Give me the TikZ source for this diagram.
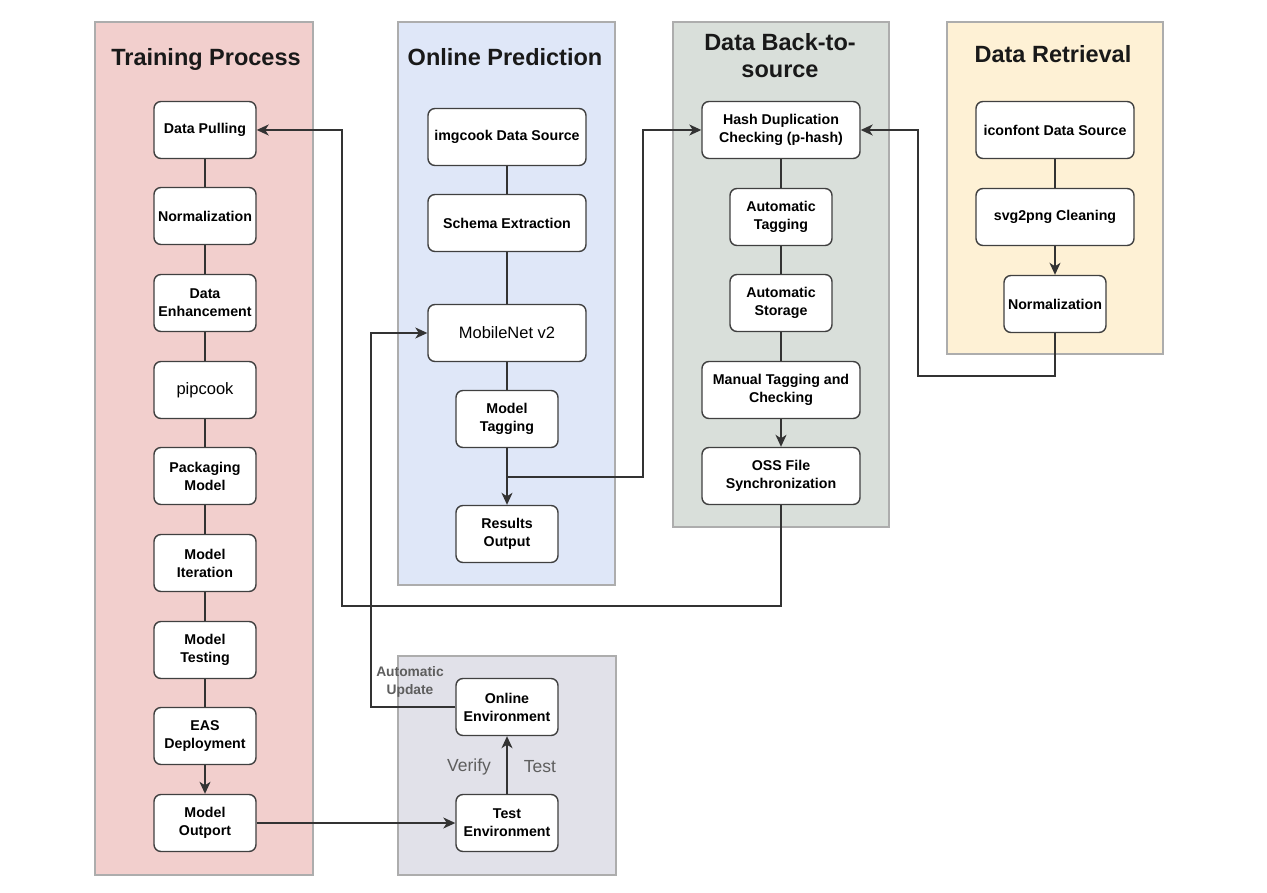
\documentclass[tikz,border=0pt]{standalone}
\usepackage{fontspec}
\setmainfont{Liberation Sans}
\usetikzlibrary{arrows.meta}
\definecolor{trainfill}{HTML}{F2CFCD}
\definecolor{onlinefill}{HTML}{DFE7F8}
\definecolor{backfill}{HTML}{D9DFDA}
\definecolor{retrfill}{HTML}{FEF1D5}
\definecolor{envfill}{HTML}{E1E1E9}
\definecolor{linec}{HTML}{333333}
\definecolor{labelc}{HTML}{5E5E5E}
\tikzset{
  container/.style={draw=black!32, line width=1.1pt},
  title/.style={font=\bfseries\fontsize{23.5}{27}\selectfont, align=center, text=black!90},
  box/.style={draw=black!75, line width=1.4pt, rounded corners=7pt, fill=white, align=center,
    font=\bfseries\fontsize{14.2}{18}\selectfont, inner sep=1pt, minimum height=57pt},
  sbox/.style={box, minimum width=102pt},
  wbox/.style={box, minimum width=158pt},
  plain/.style={font=\fontsize{16.5}{19}\selectfont},
  conn/.style={draw=linec, line width=1.4pt},
  arr/.style={conn, -{Stealth[length=12pt,width=11pt,inset=3.5pt]}},
  lab/.style={text=labelc, font=\fontsize{17.5}{20}\selectfont},
  blab/.style={text=labelc, align=center, font=\bfseries\fontsize{13.8}{18}\selectfont}
}
\begin{document}
\begin{tikzpicture}[x=1pt,y=-1pt]
\useasboundingbox (0,0) rectangle (1267,893);
% containers
\fill[white] (0,0) rectangle (1267,893);
\draw[container, fill=trainfill] (95,22) rectangle (313,875);
\draw[container, fill=onlinefill] (398,22) rectangle (615,585);
\draw[container, fill=backfill] (673,22) rectangle (889,527);
\draw[container, fill=retrfill] (947,22) rectangle (1163,354);
\draw[container, fill=envfill] (398,656) rectangle (616,875);
% titles
\node[title] (t1) at (206,59) {Training Process};
\node[title] (t2) at (505,57) {Online Prediction};
\node[title] (t3) at (780,56) {Data Back-to-\\source};
\node[title] (t4) at (1053,54) {Data Retrieval};
% training
\node[sbox] (dpull) at (205,130) {Data Pulling};
\node[sbox] (tnorm) at (205,216) {Normalization};
\node[sbox] (denh) at (205,303) {Data\\Enhancement};
\node[sbox, plain] (pip) at (205,390) {pipcook};
\node[sbox] (pack) at (205,476) {Packaging\\Model};
\node[sbox] (miter) at (205,563) {Model\\Iteration};
\node[sbox] (mtest) at (205,650) {Model\\Testing};
\node[sbox] (eas) at (205,736) {EAS\\Deployment};
\node[sbox] (mout) at (205,823) {Model\\Outport};
% online prediction
\node[wbox] (img) at (507,137) {imgcook Data Source};
\node[wbox] (schema) at (507,223) {Schema Extraction};
\node[wbox, plain] (mobile) at (507,333) {MobileNet v2};
\node[sbox] (mtag) at (507,419) {Model\\Tagging};
\node[sbox] (res) at (507,534) {Results\\Output};
% back-to-source
\node[wbox] (hash) at (781,130) {Hash Duplication\\Checking (p-hash)};
\node[sbox] (atag) at (781,217) {Automatic\\Tagging};
\node[sbox] (astore) at (781,303) {Automatic\\Storage};
\node[wbox] (manual) at (781,390) {Manual Tagging and\\Checking};
\node[wbox] (oss) at (781,476) {OSS File\\Synchronization};
% retrieval
\node[wbox] (icon) at (1055,130) {iconfont Data Source};
\node[wbox] (svg) at (1055,217) {svg2png Cleaning};
\node[sbox] (rnorm) at (1055,304) {Normalization};
% environments
\node[sbox] (onenv) at (507,707) {Online\\Environment};
\node[sbox] (testenv) at (507,823) {Test\\Environment};
% connectors: training
\draw[conn] (dpull) -- (tnorm);
\draw[conn] (tnorm) -- (denh);
\draw[conn] (denh) -- (pip);
\draw[conn] (pip) -- (pack);
\draw[conn] (pack) -- (miter);
\draw[conn] (miter) -- (mtest);
\draw[conn] (mtest) -- (eas);
\draw[arr] (eas) -- (mout);
% online
\draw[conn] (img) -- (schema);
\draw[conn] (schema) -- (mobile);
\draw[conn] (mobile) -- (mtag);
\draw[arr] (mtag) -- (res);
% back-to-source
\draw[conn] (hash.south -| atag) -- (atag);
\draw[conn] (atag) -- (astore);
\draw[conn] (astore) -- (manual.north -| astore);
\draw[arr] (manual) -- (oss);
% retrieval
\draw[conn] (icon) -- (svg);
\draw[arr] (svg) -- (rnorm);
% cross connectors
\coordinate (br) at (507,477);
\coordinate (j1) at (643,477);
\draw[arr] (br) -- (j1) |- (hash.west);
\coordinate (c2) at (342,606);
\draw[arr] (oss.south) |- (c2) |- (dpull.east);
\coordinate (c3) at (918,376);
\draw[arr] (rnorm.south) |- (c3) |- (hash.east);
\coordinate (c4) at (371,707);
\draw[arr] (onenv.west) -- (c4) |- (mobile.west);
\draw[arr] (mout.east) -- (testenv.west);
\draw[arr] (testenv.north) -- (onenv.south);
% labels
\node[lab] (lv) at (469,767) {Verify};
\node[lab] (lt) at (540,767) {Test};
\node[blab] (lau) at (410,682) {Automatic\\Update};
\end{tikzpicture}
\end{document}
